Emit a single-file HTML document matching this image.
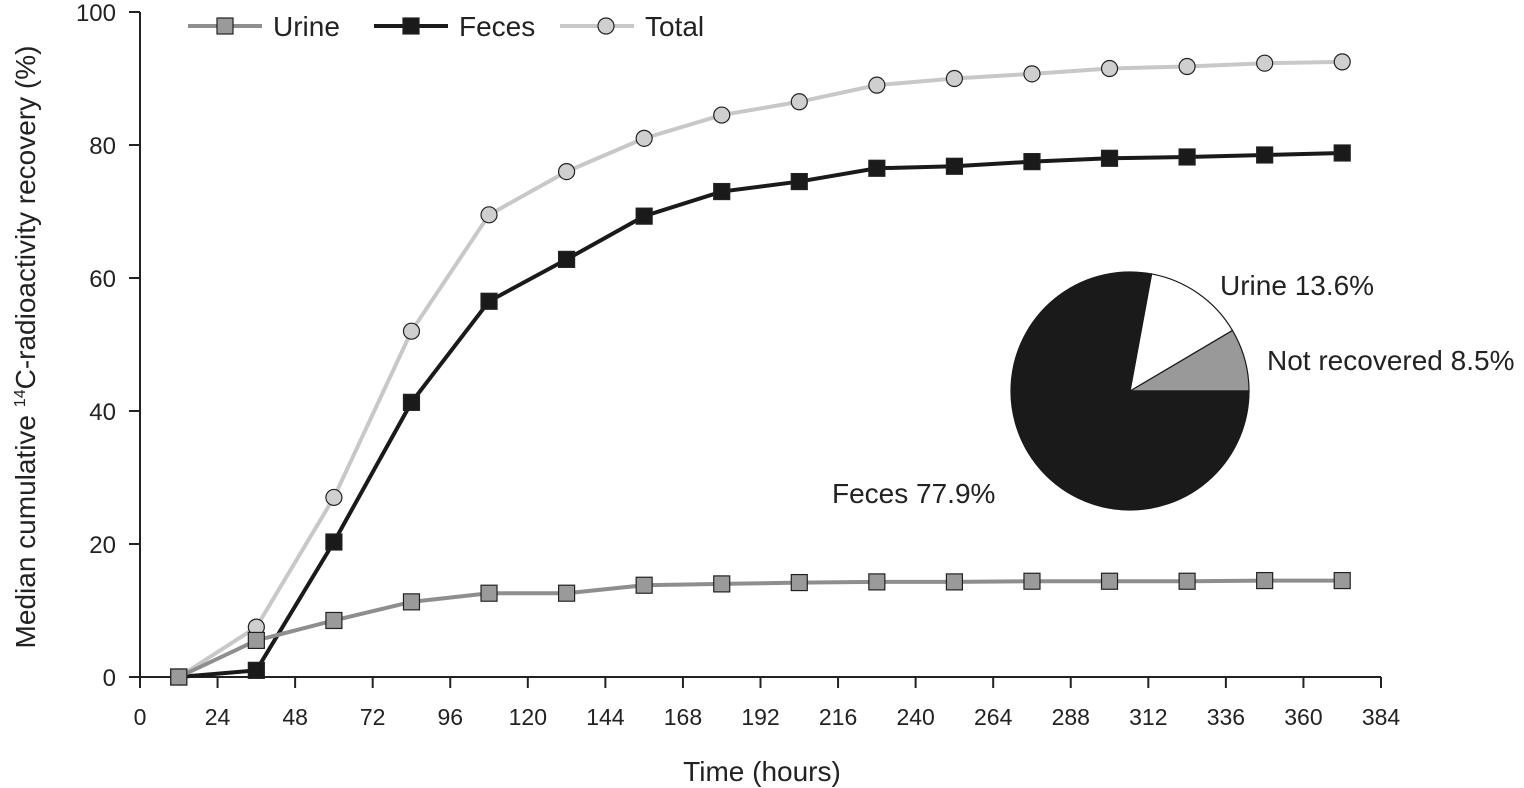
<!DOCTYPE html>
<html><head><meta charset="utf-8"><style>
body{margin:0;background:#fff;}
svg{display:block;font-family:"Liberation Sans",Arial,sans-serif;}
</style></head><body>
<svg id="chart" width="1524" height="788">
<g id="axes"></g><g id="series"></g><g id="pie"></g><g id="legend"></g>
</svg>
<script>
const hours=[12,36,60,84,108,132,156,180,204,228,252,276,300,324,348,372];
const urine=[0,5.5,8.5,11.3,12.6,12.6,13.8,14.0,14.2,14.3,14.3,14.4,14.4,14.4,14.5,14.5];
const feces=[0,1.0,20.3,41.3,56.5,62.8,69.3,73.0,74.5,76.5,76.8,77.5,78.0,78.2,78.5,78.8];
const total=[0,7.5,27.0,52.0,69.5,76.0,81.0,84.5,86.5,89.0,90.0,90.7,91.5,91.8,92.3,92.5];
const xTicks=[0,24,48,72,96,120,144,168,192,216,240,264,288,312,336,360,384];
const yTicks=[0,20,40,60,80,100];
const pieLabels=["Not recovered 8.5%","Urine 13.6%","Feces 77.9%"];
const pieValues=[8.5,13.6,77.9];
const NS="http://www.w3.org/2000/svg";
const X=h=>140+h*(1381-140)/384;
const Y=v=>677-v*6.65;
function mk(p,tag,at,txt){const e=document.createElementNS(NS,tag);for(const k in at)e.setAttribute(k,at[k]);if(txt!==undefined)e.textContent=txt;p.appendChild(e);return e;}
const ax=document.getElementById('axes');
let e=mk(ax,'line',{x1:140,y1:677,x2:1381,y2:677,stroke:'#222','stroke-width':2});

e=mk(ax,'line',{x1:140,y1:Y(100),x2:140,y2:677,stroke:'#222','stroke-width':2});

xTicks.forEach(t=>{mk(ax,'line',{x1:X(t),y1:677,x2:X(t),y2:688,stroke:'#222','stroke-width':2});
 e=mk(ax,'text',{x:X(t),y:725,'font-size':23,'text-anchor':'middle',fill:'#222'},t);
 });
yTicks.forEach(t=>{mk(ax,'line',{x1:129,y1:Y(t),x2:140,y2:Y(t),stroke:'#222','stroke-width':2});
 e=mk(ax,'text',{x:116,y:Y(t)+9,'font-size':24,'text-anchor':'end',fill:'#222'},t);
 });
e=mk(ax,'text',{x:762,y:781,'font-size':28,'text-anchor':'middle',fill:'#222'},'Time (hours)');

e=mk(ax,'text',{x:0,y:0,'font-size':28,'text-anchor':'middle',fill:'#222',transform:'translate(35,347) rotate(-90)'});

e.innerHTML='Median cumulative <tspan font-size="16" dy="-10">14</tspan><tspan dy="10">C-radioactivity recovery (%)</tspan>';
const sg=document.getElementById('series');
function series(vals,color,fill,shape,name){
 const g=mk(sg,'g',{});
 mk(g,'polyline',{points:hours.map((h,i)=>X(h)+','+Y(vals[i])).join(' '),fill:'none',stroke:color,'stroke-width':4});
 hours.forEach((h,i)=>{let m;
  if(shape==='c')m=mk(g,'circle',{cx:X(h),cy:Y(vals[i]),r:8,fill:fill,stroke:'#222','stroke-width':1.2});
  else m=mk(g,'rect',{x:X(h)-8,y:Y(vals[i])-8,width:16,height:16,fill:fill,stroke:'#222','stroke-width':1.2});
  });
}
series(total,'#c8c8c8','#cfcfcf','c','total');
series(feces,'#1a1a1a','#1a1a1a','s','feces');
series(urine,'#8e8e8e','#9a9a9a','s','urine');
const pg=document.getElementById('pie');
const cx=1130,cy=391,r=119;const cols=['#999','#fff','#1a1a1a'];
let a0=0;const sum=pieValues.reduce((a,b)=>a+b,0);
pieValues.forEach((v,i)=>{const a1=a0+v/sum*2*Math.PI;
 const p1=[cx+r*Math.cos(a0),cy-r*Math.sin(a0)],p2=[cx+r*Math.cos(a1),cy-r*Math.sin(a1)];
 const large=(a1-a0)>Math.PI?1:0;
 e=mk(pg,'path',{d:`M${cx},${cy}L${p1[0]},${p1[1]}A${r},${r} 0 ${large} 0 ${p2[0]},${p2[1]}Z`,fill:cols[i],stroke:'#1a1a1a','stroke-width':1.2});
 a0=a1;});
const lp=[[1267,370,'start'],[1220,295,'start'],[832,503,'start']];
pieLabels.forEach((l,i)=>{e=mk(pg,'text',{x:lp[i][0],y:lp[i][1],'font-size':28,fill:'#222','text-anchor':lp[i][2]},l);
 });
const lg=document.getElementById('legend');
[['Urine','#8e8e8e','#9a9a9a','s',188],['Feces','#1a1a1a','#1a1a1a','s',374],['Total','#c8c8c8','#cfcfcf','c',560]].forEach(d=>{
 const g=mk(lg,'g',{});
 mk(g,'line',{x1:d[4],y1:26,x2:d[4]+74,y2:26,stroke:d[1],'stroke-width':4});
 if(d[3]==='c')mk(g,'circle',{cx:d[4]+46,cy:26,r:8,fill:d[2],stroke:'#222','stroke-width':1.2});
 else mk(g,'rect',{x:d[4]+29,y:18,width:16,height:16,fill:d[2],stroke:'#222','stroke-width':1.2});
 mk(g,'text',{x:d[4]+85,y:36,'font-size':28,fill:'#222'},d[0]);});
</script>
</body></html>
